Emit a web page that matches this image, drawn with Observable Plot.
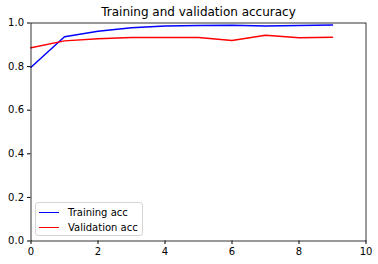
<!DOCTYPE html>
<html><head><meta charset="utf-8">
<script src="https://cdn.jsdelivr.net/npm/d3@7"></script>
<script src="https://cdn.jsdelivr.net/npm/@observablehq/plot@0.6"></script>
<style>
html,body{margin:0;padding:0;background:#fff;}
#wrap{position:relative;width:378px;height:264px;font-family:"DejaVu Sans",sans-serif;}
#legend{position:absolute;left:35px;top:202px;width:106px;height:32px;border:1px solid #d5d5d5;border-radius:3px;background:rgba(255,255,255,0.8);font-size:10px;}
.item{position:absolute;left:3px;height:14px;display:flex;align-items:center;}
.item span.sw{display:inline-block;width:20px;height:0;border-top:1.5px solid;margin-right:9px;}
</style>
</head><body>
<div id="wrap"></div>
<script>
const epochs = [0,1,2,3,4,5,6,7,8,9];
const trainAcc = [0.797,0.937,0.962,0.978,0.986,0.988,0.990,0.986,0.988,0.991];
const valAcc = [0.886,0.918,0.928,0.933,0.933,0.934,0.920,0.944,0.932,0.935];
const xTicks = [0,2,4,6,8,10];
const yTicks = [0.0,0.2,0.4,0.6,0.8,1.0];
const seriesNames = ["Training acc","Validation acc"];
const seriesColors = ["#0000ff","#ff0000"];
const title = "Training and validation accuracy";

const train = epochs.map((e,i)=>({epoch:e, acc:trainAcc[i]}));
const val = epochs.map((e,i)=>({epoch:e, acc:valAcc[i]}));

const plot = Plot.plot({
  width:378, height:264,
  marginLeft:30.5, marginRight:12.5, marginTop:22.5, marginBottom:23.5,
  style:{fontFamily:"DejaVu Sans, sans-serif", fontSize:"10px", color:"#000", background:"#fff", overflow:"visible"},
  x:{domain:[0,10], ticks:xTicks, tickFormat:d=>String(d), label:null, tickSize:3.5, tickPadding:3.5},
  y:{domain:[0,1], ticks:yTicks, tickFormat:d=>d.toFixed(1), label:null, tickSize:3.5, tickPadding:3.5},
  marks:[
    Plot.line(train,{x:"epoch",y:"acc",stroke:seriesColors[0],strokeWidth:1.5}),
    Plot.line(val,{x:"epoch",y:"acc",stroke:seriesColors[1],strokeWidth:1.5}),
    Plot.frame({stroke:"#000",strokeWidth:0.8}),
    Plot.text([title],{frameAnchor:"top",dy:-16,text:d=>d,fontSize:12,fill:"#000"})
  ]
});
plot.querySelectorAll('[aria-label$="tick label"] text, [aria-label="x-axis tick label"], [aria-label="y-axis tick label"]').forEach(()=>{});
const wrap = document.getElementById("wrap");
wrap.appendChild(plot);

const lg = document.createElement("div");
lg.id="legend";
seriesNames.forEach((n,i)=>{
  const it=document.createElement("div");
  it.className="item";
  it.style.top=(2+i*15)+"px";
  it.innerHTML=`<span class="sw" style="border-color:${seriesColors[i]}"></span>${n}`;
  lg.appendChild(it);
});
wrap.appendChild(lg);
</script>
</body></html>
